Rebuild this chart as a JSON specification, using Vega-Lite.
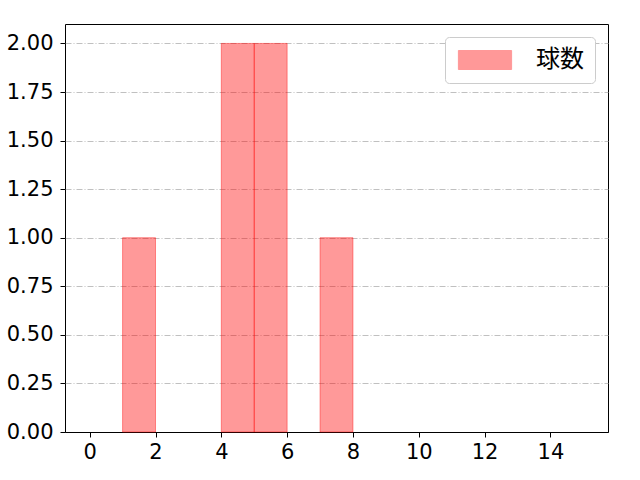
{
  "$schema": "https://vega.github.io/schema/vega-lite/v6.json",
  "width": 543,
  "height": 408,
  "autosize": {"type": "none"},
  "padding": {"left": 65, "top": 24, "right": 32, "bottom": 48},
  "background": "white",
  "config": {
    "font": "DejaVu Sans",
    "view": {"stroke": "black", "strokeWidth": 1}
  },
  "data": {
    "values": [
      {"bin_start": 1, "bin_end": 2, "count": 1, "series": "球数"},
      {"bin_start": 4, "bin_end": 5, "count": 2, "series": "球数"},
      {"bin_start": 5, "bin_end": 6, "count": 2, "series": "球数"},
      {"bin_start": 7, "bin_end": 8, "count": 1, "series": "球数"}
    ]
  },
  "mark": {"type": "rect", "fillOpacity": 0.4, "stroke": "#ff0000", "strokeOpacity": 0.4, "strokeWidth": 1},
  "encoding": {
    "x": {
      "field": "bin_start", "type": "quantitative",
      "scale": {"domain": [-0.75, 15.75], "nice": false, "zero": false},
      "axis": {"values": [0, 2, 4, 6, 8, 10, 12, 14], "title": null, "grid": false, "domain": false,
               "labelFont": "DejaVu Sans", "labelFontSize": 21, "labelColor": "black", "tickColor": "black", "tickSize": 5, "labelPadding": 4, "labelFlush": false}
    },
    "x2": {"field": "bin_end"},
    "y": {
      "field": "count", "type": "quantitative",
      "scale": {"domain": [0, 2.1], "nice": false},
      "axis": {"values": [0, 0.25, 0.5, 0.75, 1, 1.25, 1.5, 1.75, 2], "format": ".2f", "title": null, "domain": false,
               "grid": true,
               "gridColor": {"condition": {"test": "datum.value === 0", "value": "black"}, "value": "#b0b0b0"},
               "gridDash": {"condition": {"test": "datum.value === 0", "value": []}, "value": [6, 2, 1, 2]},
               "gridWidth": 0.8,
               "labelFont": "DejaVu Sans", "labelFontSize": 21, "labelColor": "black", "tickColor": "black", "tickSize": 5, "labelPadding": 7, "labelFlush": false}
    },
    "y2": {"datum": 0},
    "color": {
      "field": "series", "type": "nominal",
      "scale": {"domain": ["球数"], "range": ["#ff0000"]},
      "legend": {
        "title": null, "orient": "top-right", "offset": 13,
        "symbolType": "M-2.8,-1L2.8,-1L2.8,1L-2.8,1Z", "symbolSize": 361,
        "symbolOffset": 17,
        "symbolOpacity": 0.4, "symbolStrokeWidth": 1,
        "labelFont": "Noto Sans CJK JP", "labelFontSize": 24, "labelColor": "black", "labelOffset": 39,
        "strokeColor": "#cccccc", "fillColor": "white", "cornerRadius": 4, "padding": 11
      }
    }
  }
}
